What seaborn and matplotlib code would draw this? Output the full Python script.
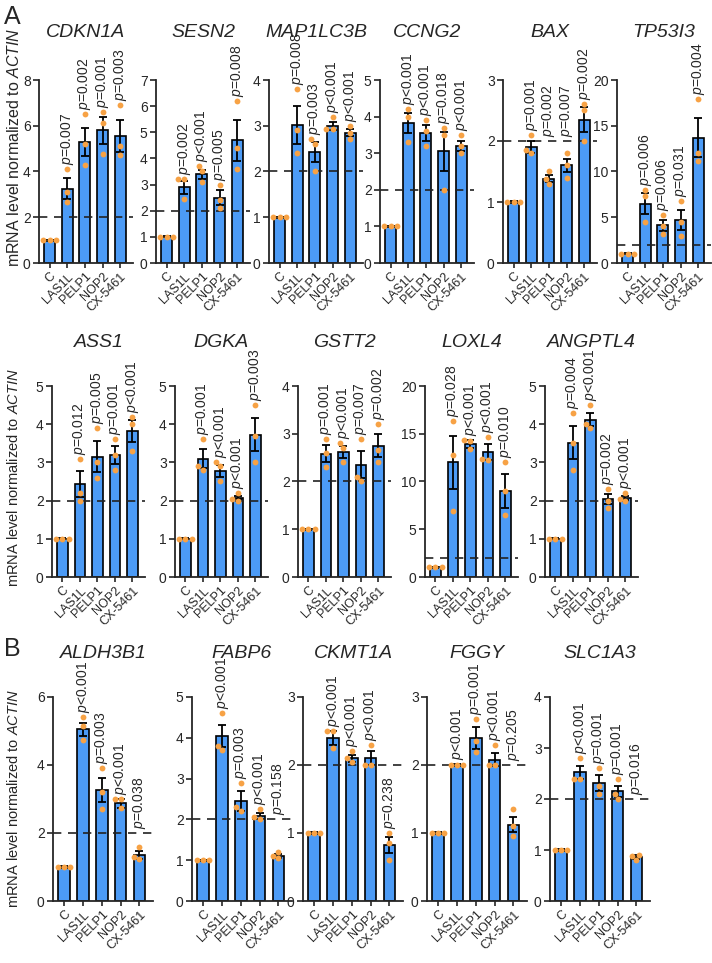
import matplotlib
matplotlib.use('Agg')
import matplotlib.pyplot as plt
import seaborn as sns
import pandas as pd

groups = ['C', 'LAS1L', 'PELP1', 'NOP2', 'CX-5461']

genes_a1 = ['CDKN1A', 'SESN2', 'MAP1LC3B', 'CCNG2', 'BAX', 'TP53I3']
genes_a2 = ['ASS1', 'DGKA', 'GSTT2', 'LOXL4', 'ANGPTL4']
genes_b = ['ALDH3B1', 'FABP6', 'CKMT1A', 'FGGY', 'SLC1A3']

means = {
    'CDKN1A':   [1.0, 3.25, 5.3, 5.8, 5.55],
    'SESN2':    [1.0, 2.9, 3.4, 2.5, 4.7],
    'MAP1LC3B': [1.0, 3.02, 2.42, 3.0, 2.85],
    'CCNG2':    [1.0, 3.82, 3.55, 3.05, 3.2],
    'BAX':      [1.0, 1.9, 1.38, 1.6, 2.35],
    'TP53I3':   [1.0, 6.5, 4.1, 4.7, 13.7],
    'ASS1':     [1.0, 2.43, 3.15, 3.2, 3.82],
    'DGKA':     [1.0, 3.1, 2.78, 2.08, 3.72],
    'GSTT2':    [1.0, 2.58, 2.62, 2.35, 2.75],
    'LOXL4':    [1.0, 12.0, 13.9, 13.1, 9.0],
    'ANGPTL4':  [1.0, 3.52, 4.12, 2.05, 2.07],
    'ALDH3B1':  [1.0, 5.05, 3.27, 2.87, 1.35],
    'FABP6':    [1.0, 4.05, 2.45, 2.08, 1.1],
    'CKMT1A':   [1.0, 2.4, 2.1, 2.1, 0.82],
    'FGGY':     [1.0, 2.0, 2.4, 2.08, 1.12],
    'SLC1A3':   [1.0, 2.52, 2.32, 2.15, 0.86],
}

sems = {
    'CDKN1A':   [0.02, 0.45, 0.62, 0.6, 0.68],
    'SESN2':    [0.02, 0.25, 0.17, 0.28, 0.78],
    'MAP1LC3B': [0.01, 0.41, 0.22, 0.09, 0.08],
    'CCNG2':    [0.01, 0.27, 0.21, 0.53, 0.13],
    'BAX':      [0.01, 0.1, 0.06, 0.11, 0.2],
    'TP53I3':   [0.05, 1.1, 0.6, 1.1, 2.1],
    'ASS1':     [0.01, 0.34, 0.4, 0.24, 0.28],
    'DGKA':     [0.01, 0.25, 0.15, 0.05, 0.43],
    'GSTT2':    [0.01, 0.18, 0.12, 0.28, 0.24],
    'LOXL4':    [0.05, 2.8, 0.4, 0.8, 1.75],
    'ANGPTL4':  [0.01, 0.43, 0.17, 0.13, 0.06],
    'ALDH3B1':  [0.02, 0.2, 0.36, 0.12, 0.12],
    'FABP6':    [0.01, 0.27, 0.25, 0.08, 0.05],
    'CKMT1A':   [0.01, 0.1, 0.05, 0.1, 0.12],
    'FGGY':     [0.01, 0.01, 0.16, 0.1, 0.11],
    'SLC1A3':   [0.01, 0.13, 0.16, 0.11, 0.04],
}

dots = {
    'CDKN1A':   [[1, 1, 1], [4.1, 3.1, 2.65], [6.5, 5.2, 4.3], [6.6, 6.1, 4.75], [6.9, 5.1, 4.7]],
    'SESN2':    [[1, 1, 1], [3.2, 3.2, 2.45], [3.7, 3.5, 3.1], [3.0, 2.4, 2.1], [6.2, 4.4, 3.6]],
    'MAP1LC3B': [[1, 1, 1], [3.8, 2.9, 2.4], [2.7, 2.6, 2.0], [3.2, 2.92, 2.92], [3.0, 2.85, 2.72]],
    'CCNG2':    [[1, 1, 1], [4.2, 4.0, 3.3], [3.9, 3.6, 3.2], [3.7, 3.5, 2.0], [3.5, 3.2, 3.0]],
    'BAX':      [[1, 1, 1], [2.1, 1.85, 1.8], [1.5, 1.38, 1.3], [1.8, 1.6, 1.4], [2.6, 2.5, 2.0]],
    'TP53I3':   [[1, 1, 1], [8.0, 7.3, 4.5], [5.2, 4.0, 3.2], [6.8, 4.5, 3.0], [17.9, 12.0, 11.2]],
    'ASS1':     [[1, 1, 1], [3.1, 2.2, 2.0], [3.9, 3.0, 2.6], [3.6, 3.2, 2.8], [4.2, 4.0, 3.3]],
    'DGKA':     [[1, 1, 1], [3.6, 2.9, 2.8], [3.0, 2.9, 2.5], [2.2, 2.05, 2.0], [4.5, 3.7, 3.0]],
    'GSTT2':    [[1, 1, 1], [2.9, 2.6, 2.3], [2.8, 2.7, 2.4], [2.9, 2.1, 2.0], [3.2, 2.65, 2.4]],
    'LOXL4':    [[1, 1, 1], [16.3, 12.8, 6.9], [14.3, 14.2, 13.4], [14.7, 12.4, 12.2], [12.0, 9.0, 6.5]],
    'ANGPTL4':  [[1, 1, 1], [4.3, 3.5, 2.8], [4.5, 4.0, 3.9], [2.3, 2.0, 1.8], [2.2, 2.05, 2.0]],
    'ALDH3B1':  [[1, 1, 1], [5.4, 5.15, 4.75], [3.9, 3.2, 2.7], [3.0, 3.0, 2.75], [1.6, 1.3, 1.25]],
    'FABP6':    [[1, 1, 1], [4.6, 3.8, 3.7], [2.9, 2.3, 2.2], [2.25, 2.05, 2.0], [1.2, 1.1, 1.05]],
    'CKMT1A':   [[1, 1, 1], [2.5, 2.5, 2.25], [2.2, 2.1, 2.05], [2.3, 2.0, 2.0], [1.0, 0.85, 0.6]],
    'FGGY':     [[1, 1, 1], [2.0, 2.0, 2.0], [2.67, 2.36, 2.19], [2.3, 2.0, 2.0], [1.35, 1.1, 0.95]],
    'SLC1A3':   [[1, 1, 1], [2.8, 2.4, 2.4], [2.6, 2.25, 2.1], [2.4, 2.1, 2.0], [0.9, 0.88, 0.8]],
}

pvals = {
    'CDKN1A':   ['0.007', '0.002', '0.001', '0.003'],
    'SESN2':    ['0.002', '<0.001', '0.005', '0.008'],
    'MAP1LC3B': ['0.008', '0.003', '<0.001', '<0.001'],
    'CCNG2':    ['<0.001', '<0.001', '0.018', '<0.001'],
    'BAX':      ['0.001', '0.002', '0.007', '0.002'],
    'TP53I3':   ['0.006', '0.006', '0.031', '0.004'],
    'ASS1':     ['0.012', '0.005', '0.001', '<0.001'],
    'DGKA':     ['0.001', '<0.001', '<0.001', '0.003'],
    'GSTT2':    ['0.001', '<0.001', '0.007', '0.002'],
    'LOXL4':    ['0.028', '<0.001', '<0.001', '0.010'],
    'ANGPTL4':  ['0.004', '<0.001', '0.002', '<0.001'],
    'ALDH3B1':  ['<0.001', '0.003', '<0.001', '0.038'],
    'FABP6':    ['<0.001', '0.003', '<0.001', '0.158'],
    'CKMT1A':   ['<0.001', '<0.001', '<0.001', '0.238'],
    'FGGY':     ['<0.001', '0.001', '<0.001', '0.205'],
    'SLC1A3':   ['<0.001', '0.001', '0.001', '0.016'],
}

ymax = {'CDKN1A': 8, 'SESN2': 7, 'MAP1LC3B': 4, 'CCNG2': 5, 'BAX': 3, 'TP53I3': 20,
        'ASS1': 5, 'DGKA': 5, 'GSTT2': 4, 'LOXL4': 20, 'ANGPTL4': 5,
        'ALDH3B1': 6, 'FABP6': 5, 'CKMT1A': 3, 'FGGY': 3, 'SLC1A3': 4}
ystep = {'CDKN1A': 2, 'TP53I3': 5, 'LOXL4': 5, 'ALDH3B1': 2}

threshold = 2

BLUE = '#4C9BF6'
ORANGE = '#F7A245'

sns.set_style('ticks')
plt.rcParams['font.family'] = ['Liberation Sans', 'DejaVu Sans']
plt.rcParams['mathtext.fontset'] = 'custom'
plt.rcParams['mathtext.rm'] = 'Liberation Sans'
plt.rcParams['mathtext.it'] = 'Liberation Sans:italic'
plt.rcParams['axes.linewidth'] = 1.3

W, H = 712, 963
fig = plt.figure(figsize=(W / 100, H / 100), dpi=100)
renderer = fig.canvas.get_renderer()

# layout in pixels: genes, left edges, width, top, bottom, title baseline, ylabel center, ylabel size
rows = [
    (genes_a1, [39, 156, 269, 380, 503, 617], 94, 80, 263, 37, 147, 11.5),
    (genes_a2, [52, 175, 298, 425, 545], 93, 386, 577, 347, 478, 10.5),
    (genes_b, [53, 192, 303, 427, 550], 100, 697, 901, 658, 799, 10.5),
]


def draw_panel(ax, gene, h_px):
    top = ymax[gene]
    sns.barplot(x=groups, y=means[gene], order=groups, ax=ax, color=BLUE,
                edgecolor='black', linewidth=1.2, width=0.62, errorbar=None,
                saturation=1, zorder=2)
    ax.axhline(threshold, ls=(0, (5, 4)), color='#222222', lw=1.2, zorder=2.5)
    ax.errorbar(range(len(groups)), means[gene], yerr=sems[gene], fmt='none',
                ecolor='black', elinewidth=1.3, capsize=3, capthick=1.3, zorder=3)
    pts = pd.DataFrame([(g, v) for g, vals in zip(groups, dots[gene]) for v in vals],
                       columns=['group', 'value'])
    sns.swarmplot(data=pts, x='group', y='value', order=groups, ax=ax,
                  color=ORANGE, size=4.2, zorder=4)

    ax.set_ylim(0, top)
    ax.set_xlim(-0.6, 4.72)
    step = ystep.get(gene, 1)
    ax.set_yticks(range(0, top + 1, step))
    ax.set_xticks(range(len(groups)))
    ax.set_xticklabels(groups, rotation=45, ha='right', rotation_mode='anchor', fontsize=9)
    ax.tick_params(axis='y', labelsize=10, length=4, width=1.2, pad=2)
    ax.tick_params(axis='x', length=3.5, width=1.2, pad=2)
    ax.set_xlabel('')
    ax.set_ylabel('')
    sns.despine(ax=ax)
    ax.spines['left'].set_bounds(0, top)

    unit = top / h_px
    pad = 4 * unit
    for i, p in enumerate(pvals[gene], start=1):
        peak = max(max(dots[gene][i]), means[gene][i] + sems[gene][i])
        label = r'$\it{p}$' + ('<' if p.startswith('<') else '=') + p.lstrip('<')
        t = ax.text(i, peak + pad, label, rotation=90, ha='center', va='bottom',
                    fontsize=10, zorder=5)
        ext = t.get_window_extent(renderer).height * unit
        if peak + pad < threshold and peak + pad + ext > threshold - 0.02 * top:
            t.set_y(threshold + pad)


for genes, lefts, width, ytop, ybot, title_y, ylab_y, ylab_size in rows:
    h_px = ybot - ytop
    for gene, left in zip(genes, lefts):
        ax = fig.add_axes([left / W, 1 - ybot / H, width / W, h_px / H])
        draw_panel(ax, gene, h_px)
        fig.text((left + width / 2) / W, 1 - title_y / H, gene, ha='center',
                 va='baseline', fontsize=14, fontstyle='italic')
    fig.text(14 / W, 1 - ylab_y / H, r'mRNA level normalized to $\it{ACTIN}$',
             rotation=90, ha='center', va='center', fontsize=ylab_size)

fig.text(4 / W, 1 - 5 / H, 'A', fontsize=18, ha='left', va='top')
fig.text(4 / W, 1 - 637 / H, 'B', fontsize=18, ha='left', va='top')

fig.savefig('out.png', dpi=100)
